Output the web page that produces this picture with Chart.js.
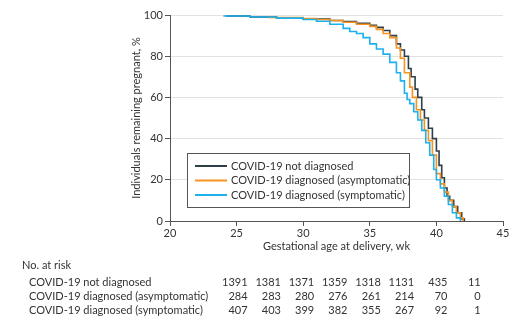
<!DOCTYPE html>
<html><head><meta charset="utf-8">
<script src="https://cdn.jsdelivr.net/npm/chart.js@4/dist/chart.umd.min.js"></script>
<style>html,body{margin:0;padding:0;background:#fff}#wrap{width:518px;height:321px}</style>
</head><body><div id="wrap"><canvas id="c" width="518" height="321"></canvas></div>
<script>
const seriesLabels = ["COVID-19 not diagnosed", "COVID-19 diagnosed (asymptomatic)", "COVID-19 diagnosed (symptomatic)"];
const seriesColors = ["#2e3f4a", "#f7931e", "#1db1ee"];

const notDiagWeeks = [24.2,26,28,30,32,33,34,35,35.5,36,36.5,37,37.3,37.6,37.9,38.1,38.4,38.6,38.9,39.1,39.4,39.7,40.0,40.2,40.4,40.6,40.8,41.0,41.3,41.6,41.9,42.1];
const notDiagPct   = [99.5,99,98.5,98,97.3,96.8,96,95,94,92.5,90,86,83,80,74,70,64,60,54,50,45,40,34,27,21,16,12,10,7,4,1,0];

const asymWeeks = [27.3,28.5,30,31,32,33,34,35,35.5,36,36.5,37,37.3,37.6,38.0,38.2,38.5,38.8,39.1,39.4,39.7,40.0,40.3,40.6,40.9,41.2,41.5,41.8,42.0];
const asymPct   = [98.8,98.8,98.3,97.8,97.3,96.5,95.5,94.5,93,91,89,84,79,72,65,60,54,49,44,39,32,23,18,14,10,7,4,1.5,0];

const symWeeks = [24,26,28,30,31,32,33,33.5,34,34.5,35,35.5,36,36.5,37,37.3,37.6,37.8,38.0,38.3,38.6,38.9,39.2,39.5,39.8,40.0,40.3,40.6,40.9,41.2,41.5,41.8];
const symPct   = [99.5,99,98.5,97.8,97,95.5,93.5,92,91,89,86,83.5,81,77,72,68,62,59,57,53,49,44,38,32,25,20,16,12,8,4,1.5,0];

const xTicks = [20,25,30,35,40,45];
const yTicks = [0,20,40,60,80,100];

const riskWeeks = [25,27.5,30,32.5,35,37.5,40,42.5];
const riskNotDiag = [1391,1381,1371,1359,1318,1131,435,11];
const riskAsym = [284,283,280,276,261,214,70,0];
const riskSym = [407,403,399,382,355,267,92,1];

const FONT = "Lato, 'Open Sans', sans-serif";
const TXT = "#333";

function pts(w, p){ return w.map((x,i)=>({x:x, y:p[i]})); }

const extras = {
  id: 'extras',
  afterDraw(chart){
    const ctx = chart.ctx, xs = chart.scales.x, ca = chart.chartArea;
    ctx.save();
    ctx.fillStyle = TXT;
    ctx.font = "11px " + FONT;
    // y title
    ctx.save();
    ctx.translate(136, (ca.top+ca.bottom)/2);
    ctx.rotate(-Math.PI/2);
    ctx.textAlign = 'center'; ctx.textBaseline = 'middle';
    ctx.fillText("Individuals remaining pregnant, %", 0, 0);
    ctx.restore();
    // x title
    ctx.textAlign = 'center'; ctx.textBaseline = 'middle';
    ctx.fillText("Gestational age at delivery, wk", (ca.left+ca.right)/2, 246);
    // legend
    const lx = 187, ly = 153, lw = 222, lh = 54;
    ctx.fillStyle = '#fff';
    ctx.fillRect(lx, ly, lw, lh);
    ctx.strokeStyle = '#555'; ctx.lineWidth = 1;
    ctx.strokeRect(lx+0.5, ly+0.5, lw, lh);
    ctx.textAlign = 'left';
    seriesLabels.forEach((lab,i)=>{
      const y = 166 + i*14.5;
      ctx.strokeStyle = seriesColors[i]; ctx.lineWidth = 2;
      ctx.beginPath(); ctx.moveTo(195, y); ctx.lineTo(227, y); ctx.stroke();
      ctx.fillStyle = TXT;
      ctx.fillText(lab, 231, y);
    });
    // risk table
    ctx.textAlign = 'left';
    ctx.fillText("No. at risk", 22, 265);
    const rows = [riskNotDiag, riskAsym, riskSym];
    rows.forEach((vals, r)=>{
      const y = 282 + r*14;
      ctx.textAlign = 'left';
      ctx.fillText(seriesLabels[r], 29, y);
      ctx.textAlign = 'right';
      vals.forEach((v,i)=>{
        ctx.fillText(String(v), xs.getPixelForValue(riskWeeks[i]) + 11, y);
      });
    });
    ctx.restore();
  }
};

new Chart(document.getElementById('c'), {
  type: 'line',
  data: {
    datasets: [
      {label: seriesLabels[2], data: pts(symWeeks, symPct), borderColor: seriesColors[2]},
      {label: seriesLabels[1], data: pts(asymWeeks, asymPct), borderColor: seriesColors[1]},
      {label: seriesLabels[0], data: pts(notDiagWeeks, notDiagPct), borderColor: seriesColors[0]}
    ].map(d=>Object.assign(d, {stepped: true, pointRadius: 0, borderWidth: 1.6, fill: false}))
  },
  options: {
    responsive: false, animation: false,
    layout: {padding: {left: 0, right: 15, top: 15, bottom: 0}},
    plugins: {legend: {display: false}, tooltip: {enabled: false}},
    scales: {
      x: {
        type: 'linear', min: 20, max: 45,
        afterBuildTicks: s => { s.ticks = xTicks.map(v=>({value:v})); },
        afterFit: s => { s.height = 100; },
        grid: {drawOnChartArea: false, tickLength: 5, tickColor: '#555'},
        border: {color: '#555', width: 1},
        ticks: {color: TXT, font: {family: FONT, size: 11}, padding: 1}
      },
      y: {
        min: 0, max: 100,
        afterBuildTicks: s => { s.ticks = yTicks.map(v=>({value:v})); },
        afterFit: s => { s.width = 170; },
        grid: {color: '#e2e2e2', tickLength: 5, tickColor: '#555'},
        border: {color: '#555', width: 1},
        ticks: {color: TXT, font: {family: FONT, size: 11}, padding: 2}
      }
    }
  },
  plugins: [extras]
});
</script></body></html>
